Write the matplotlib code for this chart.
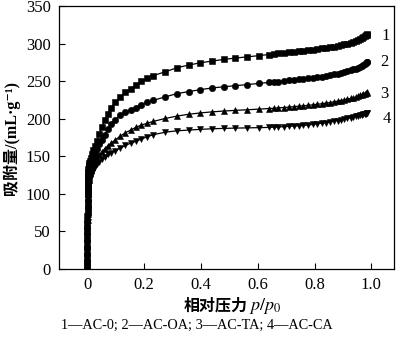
import matplotlib

matplotlib.use("Agg")
import matplotlib.pyplot as plt

plt.rcParams["font.family"] = ["Liberation Serif", "Noto Sans CJK SC", "DejaVu Serif"]
plt.rcParams["mathtext.fontset"] = "stix"

# relative pressure grid shared by all four isotherms
P_REL = [
    0.00001, 0.00002, 0.00004, 0.00007, 0.0001, 0.00015, 0.0002, 0.0003, 0.0004, 0.0006,
    0.0008, 0.001, 0.0013, 0.0017, 0.0022, 0.0028, 0.0035, 0.0045, 0.0055, 0.007,
    0.009, 0.012, 0.016, 0.021, 0.027, 0.034, 0.042, 0.051, 0.061, 0.072,
    0.084, 0.099, 0.116, 0.134, 0.152, 0.170, 0.190, 0.210,
    0.232, 0.275, 0.316, 0.357, 0.398, 0.439, 0.480, 0.521, 0.562, 0.603, 0.638,
    0.656, 0.673, 0.691, 0.709, 0.727, 0.744, 0.761, 0.778, 0.794, 0.810,
    0.825, 0.840, 0.854, 0.868, 0.881, 0.893, 0.905, 0.916, 0.927, 0.937,
    0.946, 0.954, 0.961, 0.967, 0.972, 0.977, 0.981, 0.984, 0.986,
]

# adsorbed volume, mL/g
AC_0 = [
    3, 11, 20, 30, 40, 50, 60, 70, 80, 89,
    98, 106, 113, 119, 124, 129, 133, 136, 139, 141,
    144, 148, 153, 159, 164, 171, 180, 189, 198, 207,
    215, 222.5, 229.5, 235, 240, 245, 250, 254,
    257.5, 262.6, 268, 271.5, 274.5, 276.8, 279, 280.8, 282.4, 284, 285.5,
    286.2, 287, 287.7, 288.4, 289.1, 289.8, 290.5, 291.2, 292, 292.8,
    293.6, 294.4, 295.2, 296.1, 297, 298, 299, 300, 301.1, 302.3,
    303.5, 304.8, 306, 307.3, 308.5, 309.8, 311, 312, 313,
]
AC_OA = [
    2, 10, 19, 28, 37, 46, 55, 64, 73, 82,
    90, 98, 105, 111, 116, 121, 125, 128, 131, 133,
    135, 139, 144, 149, 154, 160, 166, 172, 179, 186,
    193, 199, 204.5, 208.5, 212, 215, 219, 222,
    224.5, 229.3, 233.5, 236.2, 238.8, 241, 242.6, 244, 245.5, 247, 248.3,
    249, 249.6, 250.3, 251, 251.7, 252.4, 253.1, 253.8, 254.6, 255.4,
    256.2, 257.1, 258, 259, 260, 261, 262.1, 263.2, 264.4, 265.6,
    266.9, 268.2, 269.5, 270.8, 272.1, 273.4, 274.6, 275.5, 276.2,
]
AC_TA = [
    2, 9, 17, 25, 33, 41, 49, 57, 65, 73,
    80, 87, 94, 100, 105, 110, 114, 118, 121, 124,
    128, 132, 136, 140, 144, 148, 152, 156, 160, 164,
    168, 172, 177, 181.4, 185, 188.5, 191.5, 194,
    196.5, 200.5, 203.6, 206, 207.8, 209.2, 210.3, 211.2, 212, 212.8, 213.6,
    214, 214.5, 215, 215.5, 216.1, 216.7, 217.3, 217.9, 218.6, 219.3,
    220, 220.8, 221.6, 222.5, 223.4, 224.3, 225.2, 226.1, 227, 228,
    229, 230, 231, 231.9, 232.8, 233.6, 234.3, 234.9, 235.3,
]
AC_CA = [
    1, 8, 15, 23, 31, 39, 47, 55, 62, 69,
    76, 83, 89, 95, 100, 105, 109, 112, 115, 118,
    120, 124, 128, 132, 136, 139.5, 143, 146, 149.5, 152.5,
    155, 157.5, 161, 164.5, 167.5, 170, 173, 176,
    178.8, 182.2, 184, 185, 185.9, 186.7, 187.2, 187.6, 187.9, 188.2, 188.5,
    188.8, 189.1, 189.5, 189.9, 190.3, 190.7, 191.2, 191.7, 192.6, 193.3,
    194.1, 195, 195.9, 196.8, 197.7, 198.6, 199.5, 200.4, 201.3, 202.2,
    203.1, 204, 204.8, 205.5, 206.1, 206.6, 207, 207.3, 207.5,
]

SERIES = [
    ("1", AC_0, "s", 4.0),
    ("2", AC_OA, "o", 4.6),
    ("3", AC_TA, "^", 4.8),
    ("4", AC_CA, "v", 4.8),
]
# curve number tags at the right-hand end: (x, y)
TAG_POS = [(1.035, 310), (1.032, 275.5), (1.032, 233), (1.04, 199.6)]

X_TICKS = [0, 0.2, 0.4, 0.6, 0.8, 1.0]
X_TICKLABELS = ["0", "0.2", "0.4", "0.6", "0.8", "1.0"]
Y_TICKS = [0, 50, 100, 150, 200, 250, 300, 350]

fig = plt.figure(figsize=(4.0, 3.38), dpi=100)
ax = fig.add_axes([0.1475, 0.204, 0.8375, 0.778])

for (tag, vals, mk, ms), (tx, ty) in zip(SERIES, TAG_POS):
    ax.plot(P_REL, vals, color="black", lw=0.9, marker=mk, ms=ms,
            mfc="black", mec="black", mew=0.4)
    ax.text(tx, ty, tag, fontsize=12, ha="left", va="center")

ax.set_xlim(-0.1, 1.08)
ax.set_ylim(0, 350)
ax.set_xticks(X_TICKS)
ax.set_xticklabels(X_TICKLABELS)
ax.set_yticks(Y_TICKS)
ax.tick_params(direction="in", length=4, width=0.8, labelsize=12, pad=6,
               top=False, right=False)
for sp in ax.spines.values():
    sp.set_linewidth(0.9)

ax.set_ylabel("吸附量/(mL·g⁻¹)", fontsize=11.5, fontweight="bold", labelpad=4)

# x label: chinese part plus italic p/p0
fig.text(248 / 400, 1 - 307 / 338, "相对压力", fontsize=11.5, fontweight="bold",
         ha="right", va="center")
fig.text(249 / 400, 1 - 306 / 338, "$p/p_0$", fontsize=13, ha="left", va="center")

fig.text(197 / 400, 1 - 325 / 338, "1—AC-0; 2—AC-OA; 3—AC-TA; 4—AC-CA",
         fontsize=10.3, ha="center", va="center")

fig.savefig("out.png", dpi=100)
